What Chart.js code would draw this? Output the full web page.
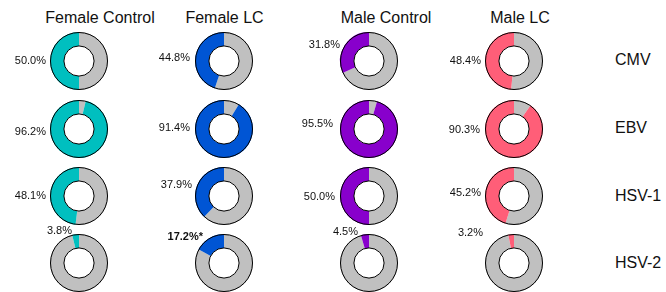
<!DOCTYPE html>
<html>
<head>
<meta charset="utf-8">
<script src="https://cdn.jsdelivr.net/npm/chart.js@4.4.0/dist/chart.umd.min.js"></script>
<style>
  body { margin: 0; background: #fff; }
  #wrap { position: relative; width: 666px; height: 292px; overflow: hidden; font-family: "Liberation Sans", Arial, sans-serif; }
  .title { position: absolute; font-size: 16px; line-height: 16px; color: #111; white-space: nowrap; transform: translateX(-50%); }
  .row { position: absolute; font-size: 16px; line-height: 16px; color: #111; white-space: nowrap; }
  canvas { position: absolute; }
</style>
</head>
<body>
<div id="wrap"></div>
<script>
// groups (columns) and viruses (rows)
var groups = ["Female Control", "Female LC", "Male Control", "Male LC"];
var viruses = ["CMV", "EBV", "HSV-1", "HSV-2"];
var groupColors = ["#00bfbf", "#0055d4", "#8800cc", "#ff5e78"];

// percent positive, one array per group, in virus order
var femaleControl = [50.0, 96.2, 48.1, 3.8];
var femaleLC      = [44.8, 91.4, 37.9, 17.2];
var maleControl   = [31.8, 95.5, 50.0, 4.5];
var maleLC        = [48.4, 90.3, 45.2, 3.2];
var seriesByGroup = [femaleControl, femaleLC, maleControl, maleLC];

// significance marks
var femaleLCStars = ["", "", "", "*"];
var starsByGroup = [["", "", "", ""], femaleLCStars, ["", "", "", ""], ["", "", "", ""]];

// layout
var colX = [78.5, 224, 369, 514];
var rowY = [60.5, 128.5, 196, 263];
var titleX = [100, 224.5, 386, 520];
// label anchor (right edge, middle) relative to donut center, [row][col]
var labelOff = [
  [[-33, 0], [-34, -3], [-29, -16], [-33, 0]],
  [[-33, 3], [-34, -1], [-36, -5], [-34, 1]],
  [[-33, 0], [-32, -11], [-34, 1], [-33, -3]],
  [[-7, -32], [-21, -26], [-11, -31], [-31, -30]]
];

var wrap = document.getElementById("wrap");

groups.forEach(function (g, c) {
  var d = document.createElement("div");
  d.className = "title";
  d.textContent = g;
  d.style.left = titleX[c] + "px";
  d.style.top = "10px";
  wrap.appendChild(d);
});
viruses.forEach(function (v, r) {
  var d = document.createElement("div");
  d.className = "row";
  d.textContent = v;
  d.style.left = "615px";
  d.style.top = (rowY[r] - 8.5) + "px";
  wrap.appendChild(d);
});

var ringPlugin = {
  id: "ring",
  afterDatasetsDraw: function (chart, args, opts) {
    var arc = chart.getDatasetMeta(0).data[0];
    var ctx = chart.ctx;
    ctx.save();
    ctx.strokeStyle = "#000";
    ctx.lineWidth = 1;
    ctx.beginPath();
    ctx.arc(arc.x, arc.y, arc.outerRadius - 0.5, 0, Math.PI * 2);
    ctx.stroke();
    ctx.beginPath();
    ctx.arc(arc.x, arc.y, arc.innerRadius, 0, Math.PI * 2);
    ctx.stroke();
    // percent label
    ctx.fillStyle = "#111";
    ctx.font = (opts.bold ? "bold " : "") + "11px 'Liberation Sans', Arial, sans-serif";
    ctx.textAlign = "right";
    ctx.textBaseline = "middle";
    ctx.fillText(opts.text, arc.x + opts.dx, arc.y + opts.dy);
    ctx.restore();
  }
};

var CW = 120, CH = 80, CX = 85, CY = 40, R = 29;

viruses.forEach(function (v, r) {
  groups.forEach(function (g, c) {
    var val = seriesByGroup[c][r];
    var star = starsByGroup[c][r];
    var cv = document.createElement("canvas");
    cv.width = CW; cv.height = CH;
    cv.style.width = CW + "px"; cv.style.height = CH + "px";
    cv.style.left = (colX[c] - CX) + "px";
    cv.style.top = (rowY[r] - CY) + "px";
    wrap.appendChild(cv);
    new Chart(cv, {
      type: "doughnut",
      data: {
        labels: ["Negative", "Positive"],
        datasets: [{
          data: [100 - val, val],
          backgroundColor: ["#c0c0c0", groupColors[c]],
          borderWidth: 0,
          hoverOffset: 0,
          offset: 0
        }]
      },
      options: {
        responsive: false,
        animation: false,
        devicePixelRatio: 1,
        cutout: "52%",
        rotation: 0,
        layout: { padding: { left: CX - R, right: CW - CX - R, top: CY - R, bottom: CH - CY - R } },
        events: [],
        plugins: {
          legend: { display: false },
          tooltip: { enabled: false },
          ring: {
            text: val.toFixed(1) + "%" + star,
            bold: star !== "",
            dx: labelOff[r][c][0],
            dy: labelOff[r][c][1]
          }
        }
      },
      plugins: [ringPlugin]
    });
  });
});
</script>
</body>
</html>
